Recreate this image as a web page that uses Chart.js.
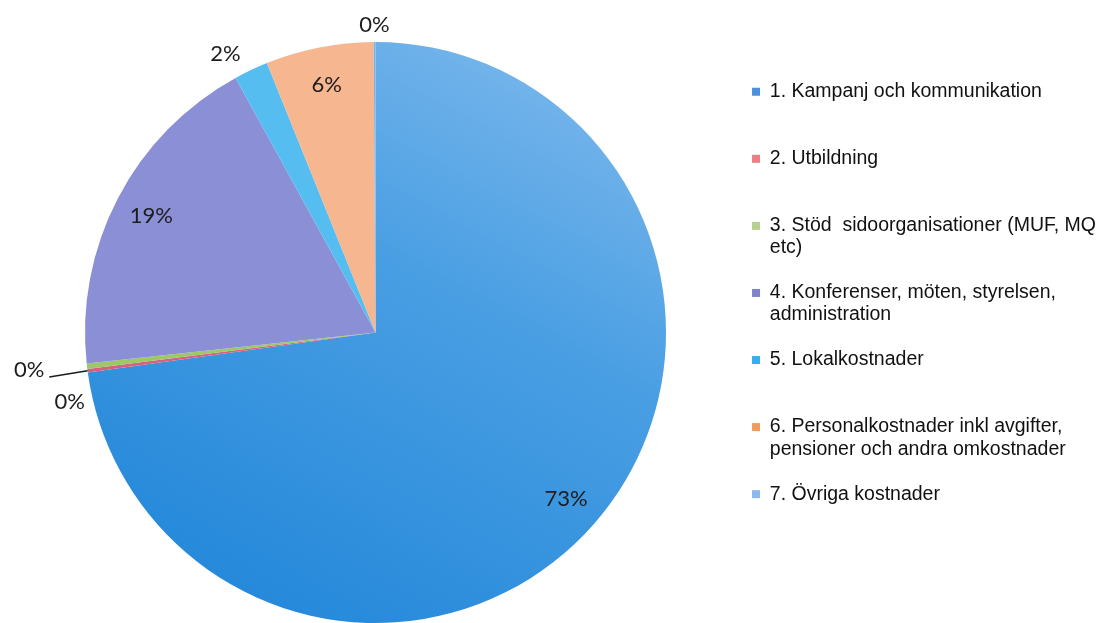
<!DOCTYPE html>
<html>
<head>
<meta charset="utf-8">
<script src="https://cdn.jsdelivr.net/npm/chart.js@4.4.0/dist/chart.umd.min.js"></script>
<style>
html, body { margin: 0; padding: 0; background: #fff; overflow: hidden; }
#wrap { position: relative; width: 1110px; height: 623px; }
</style>
</head>
<body>
<div id="wrap"><canvas id="pie-chart"></canvas></div>
<script>
// legend text, one entry per slice (wrapped lines as in the original)
var categories = [
    ['1. Kampanj och kommunikation'],
    ['2. Utbildning'],
    ['3. Stöd  sidoorganisationer (MUF, MQ', 'etc)'],
    ['4. Konferenser, möten, styrelsen,', 'administration'],
    ['5. Lokalkostnader'],
    ['6. Personalkostnader inkl avgifter,', 'pensioner och andra omkostnader'],
    ['7. Övriga kostnader']
];
// share of total, percent
var shares = [72.8, 0.2, 0.3, 18.7, 1.9, 6.0, 0.1];

var sliceColors = ['#3d95de', '#d9607c', '#9cc86a', '#8a8fd6', '#55bdf0', '#f6b690', '#78b2ec'];
var keyColors = ['#4a93dc', '#ec7f86', '#b5d38f', '#7d84cc', '#33aef0', '#f19a5e', '#8bb8ee'];

// hand placed labels for the tiny slices (offsets in px)
var labelNudge = {
    1: {dx: -41, dy: -3, leader: true},
    2: {dx: 0, dy: 34},
    4: {dx: -18, dy: 0}
};

var sliceLabels = {
    id: 'sliceLabels',
    afterDatasetsDraw: function(chart) {
        var meta = chart.getDatasetMeta(0);
        var ctx = chart.ctx;
        var total = shares.reduce(function(a, b) { return a + b; }, 0);
        ctx.save();
        ctx.font = '22px Lato';
        ctx.fillStyle = '#1c1c1c';
        ctx.textAlign = 'center';
        ctx.textBaseline = 'middle';
        for (var i = 0; i < meta.data.length; i++) {
            var p = meta.data[i].getProps(['x', 'y', 'startAngle', 'endAngle', 'outerRadius']);
            var mid = (p.startAngle + p.endAngle) / 2;
            var f = shares[i] < 3 ? 1.06 : 0.87;
            var lx = p.x + Math.cos(mid) * p.outerRadius * f;
            var ly = p.y + Math.sin(mid) * p.outerRadius * f;
            var n = labelNudge[i];
            if (n) {
                lx += n.dx;
                ly += n.dy;
                if (n.leader) {
                    ctx.beginPath();
                    ctx.strokeStyle = '#1c1c1c';
                    ctx.lineWidth = 1.4;
                    ctx.moveTo(lx + 20, ly + 7);
                    ctx.lineTo(p.x + Math.cos(mid) * p.outerRadius, p.y + Math.sin(mid) * p.outerRadius);
                    ctx.stroke();
                }
            }
            ctx.fillText(Math.round(shares[i] / total * 100) + '%', lx, ly);
        }
        ctx.restore();
    }
};

var pieChart = new Chart(document.getElementById('pie-chart'), {
    type: 'pie',
    data: {
        labels: categories,
        datasets: [{
            data: shares,
            borderWidth: 0,
            hoverOffset: 0,
            backgroundColor: function(c) {
                if (c.index !== 0) return sliceColors[c.index];
                var area = c.chart.chartArea;
                if (!area) return sliceColors[0];
                var g = c.chart.ctx.createLinearGradient(560, 50, 260, 620);
                g.addColorStop(0, '#7ab7ec');
                g.addColorStop(0.4, '#4a9fe3');
                g.addColorStop(1, '#2488da');
                return g;
            }
        }]
    },
    options: {
        responsive: true,
        maintainAspectRatio: false,
        animation: false,
        layout: { padding: { left: 22, right: 4, top: 42, bottom: -7 } },
        plugins: {
            tooltip: { enabled: false },
            legend: {
                position: 'right',
                align: 'start',
                title: { display: true, text: ' ', font: { size: 10 }, padding: { top: 0, bottom: 5 } },
                labels: {
                    boxWidth: 8,
                    boxHeight: 8,
                    padding: 23,
                    color: '#111',
                    font: { family: 'Liberation Sans, Arial, sans-serif', size: 19.5, lineHeight: 1.13 },
                    generateLabels: function(chart) {
                        return categories.map(function(lines, i) {
                            return {
                                text: lines.length > 1 ? lines : [lines[0], ''],
                                fillStyle: keyColors[i],
                                strokeStyle: keyColors[i],
                                lineWidth: 0,
                                hidden: false,
                                index: i,
                                fontColor: '#111'
                            };
                        });
                    }
                }
            }
        }
    },
    plugins: [sliceLabels]
});
</script>
</body>
</html>
